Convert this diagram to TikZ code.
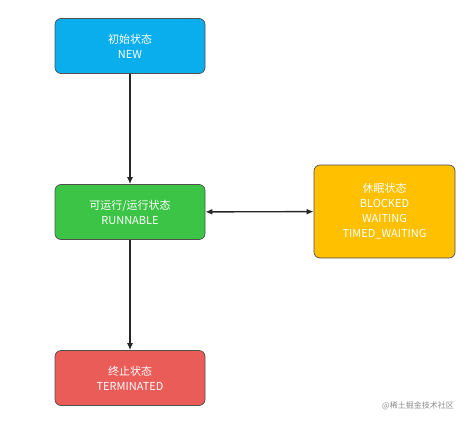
\documentclass[tikz,border=0pt]{standalone}
\usepackage{fontspec}
\setmainfont{Noto Sans CJK SC}
\usepackage{xcolor}
\usetikzlibrary{arrows.meta,positioning}
\definecolor{newblue}{RGB}{10,174,236}
\definecolor{runigreen}{RGB}{60,196,70}
\definecolor{blockyellow}{RGB}{255,192,0}
\definecolor{termred}{RGB}{234,92,88}
\definecolor{edgegray}{RGB}{80,80,80}

\begin{document}
\begin{tikzpicture}[x=1pt, y=-1pt,
  state/.style={rounded corners=6pt, minimum width=150pt, minimum height=55pt,
                draw=edgegray, line width=0.7pt, align=center, text=white,
                font=\fontsize{11}{15}\selectfont},
  arr/.style={-{Latex[length=7pt,width=6pt]}, line width=1.4pt, draw=black!85}
]
\useasboundingbox (0,0) rectangle (473,423);
% States
\node[state, fill=newblue]    (new)  at (130,46)  {初始状态\\NEW};
\node[state, fill=runigreen]  (run)  at (130,212) {可运行/运行状态\\RUNNABLE};
\node[state, fill=blockyellow, minimum width=141pt, minimum height=93pt]
  (block) at (384.5,211.5) {休眠状态\\BLOCKED\\WAITING\\TIMED\_WAITING};
\node[state, fill=termred]    (term) at (130,378) {终止状态\\TERMINATED};

% Transitions
\draw[arr] (new)  -- (run);
\draw[arr] (run)  -- (term);
\draw[arr, {Latex[length=7pt,width=6pt]}-{Latex[length=7pt,width=6pt]}] (run) -- (block);

% Watermark
\node[font=\fontsize{8}{10}\selectfont, text=black!45] (mark) at (418,406) {@稀土掘金技术社区};
\end{tikzpicture}
\end{document}
